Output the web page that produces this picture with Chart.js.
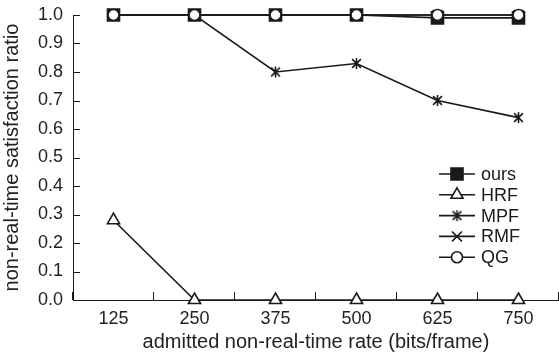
<!DOCTYPE html>
<html>
<head>
<meta charset="utf-8">
<script src="https://cdn.jsdelivr.net/npm/chart.js@4"></script>
<style>
  html, body { margin: 0; padding: 0; background: #fff; }
  #wrap { width: 559px; height: 358px; }
</style>
</head>
<body>
<div id="wrap"><canvas id="chart" width="559" height="358"></canvas></div>
<script>
const rates = ["125", "250", "375", "500", "625", "750"];
const ours = [1.0, 1.0, 1.0, 1.0, 0.99, 0.99];
const hrf = [0.28, 0, 0, 0, 0, 0];
const mpf = [1.0, 1.0, 0.80, 0.83, 0.70, 0.64];
const rmf = [1.0, 1.0, 1.0, 1.0, 1.0, 1.0];
const qg = [1.0, 1.0, 1.0, 1.0, 1.0, 1.0];
const yTicks = [0, 0.1, 0.2, 0.3, 0.4, 0.5, 0.6, 0.7, 0.8, 0.9, 1.0];

const ink = "#1a1a1a";
const font = "'Liberation Sans', Arial, sans-serif";

// asterisk marker (x plus a vertical stroke)
function asterisk(size) {
  const c = document.createElement("canvas");
  c.width = size; c.height = size;
  const g = c.getContext("2d");
  const m = size / 2, r = size / 2 - 1;
  g.strokeStyle = ink;
  g.lineWidth = 1.6;
  g.beginPath();
  g.moveTo(m - r * 0.8, m - r * 0.8); g.lineTo(m + r * 0.8, m + r * 0.8);
  g.moveTo(m + r * 0.8, m - r * 0.8); g.lineTo(m - r * 0.8, m + r * 0.8);
  g.moveTo(m, m - r); g.lineTo(m, m + r);
  g.stroke();
  return c;
}
const starImg = asterisk(13);

const datasets = [
  { label: "ours", data: ours, pointStyle: "rect", pointRadius: 8.5, backgroundColor: ink, order: 4 },
  { label: "HRF", data: hrf, pointStyle: "triangle", pointRadius: 7, backgroundColor: "#fff", order: 3 },
  { label: "MPF", data: mpf, pointStyle: starImg, pointRadius: 6, backgroundColor: ink, order: 2 },
  { label: "RMF", data: rmf, pointStyle: "crossRot", pointRadius: 7, backgroundColor: ink, order: 1 },
  { label: "QG", data: qg, pointStyle: "circle", pointRadius: 5.5, backgroundColor: "#fff", order: 0 }
].map(d => Object.assign({
  borderColor: ink,
  borderWidth: 1.6,
  pointBorderColor: ink,
  pointBorderWidth: 1.6,
  pointBackgroundColor: d.backgroundColor,
  tension: 0,
  fill: false,
  clip: false
}, d));

// inward tick marks and the legend inside the plot
const extras = {
  id: "extras",
  afterDraw(chart) {
    const ctx = chart.ctx;
    const x = chart.scales.x, y = chart.scales.y;
    ctx.save();
    ctx.strokeStyle = ink;
    ctx.lineWidth = 1;
    ctx.beginPath();
    yTicks.forEach(v => {
      const py = Math.round(y.getPixelForValue(v)) + 0.5;
      ctx.moveTo(x.left, py); ctx.lineTo(x.left + 7, py);
    });
    const step = x.getPixelForValue(1) - x.getPixelForValue(0);
    for (let i = 0; i <= rates.length; i++) {
      const px = Math.round(x.getPixelForValue(0) - step / 2 + i * step) - 0.5;
      ctx.moveTo(px, y.bottom); ctx.lineTo(px, y.bottom - 8);
    }
    ctx.stroke();

    // legend
    const lx = 457, ly0 = 174, dy = 20.8;
    ctx.font = "18px " + font;
    ctx.textBaseline = "middle";
    ctx.fillStyle = ink;
    datasets.forEach((d, i) => {
      const ly = ly0 + i * dy;
      ctx.strokeStyle = ink;
      ctx.lineWidth = 1.6;
      ctx.beginPath();
      ctx.moveTo(lx - 18, ly); ctx.lineTo(lx + 18, ly);
      ctx.stroke();
      ctx.fillStyle = d.pointBackgroundColor;
      ctx.strokeStyle = ink;
      Chart.helpers.drawPoint(ctx, { pointStyle: d.pointStyle, radius: d.pointRadius, rotation: 0, borderWidth: 1.6 }, lx, ly);
      ctx.fillStyle = ink;
      ctx.fillText(d.label, lx + 24, ly + 1);
    });
    ctx.restore();
  }
};

const noPad = s => { s.paddingTop = 0; s.paddingBottom = 0; s.paddingLeft = 0; s.paddingRight = 0; };

new Chart(document.getElementById("chart"), {
  type: "line",
  data: { labels: rates, datasets: datasets },
  options: {
    responsive: false,
    animation: false,
    layout: { autoPadding: false, padding: { top: 15, right: 0, left: 0, bottom: 0 } },
    plugins: { legend: { display: false }, tooltip: { enabled: false } },
    scales: {
      x: {
        offset: true,
        grid: { display: false, drawTicks: false },
        border: { display: true, color: ink, width: 1 },
        ticks: { color: "#222", font: { family: font, size: 18 }, padding: 8 },
        title: { display: true, text: "admitted non-real-time rate (bits/frame)", color: "#222", font: { family: font, size: 20 }, padding: { top: 2 } },
        afterFit: s => { s.height = 58; noPad(s); }
      },
      y: {
        min: 0,
        max: 1,
        afterBuildTicks: s => { s.ticks = yTicks.map(v => ({ value: v })); },
        grid: { display: false, drawTicks: false },
        border: { display: true, color: ink, width: 1 },
        ticks: { color: "#222", font: { family: font, size: 18 }, padding: 10, callback: v => v.toFixed(1) },
        title: { display: true, text: "non-real-time satisfaction ratio", color: "#222", font: { family: font, size: 20 }, padding: { top: 0, bottom: 0 } },
        afterFit: s => { s.width = 73; noPad(s); }
      }
    }
  },
  plugins: [extras]
});
</script>
</body>
</html>
